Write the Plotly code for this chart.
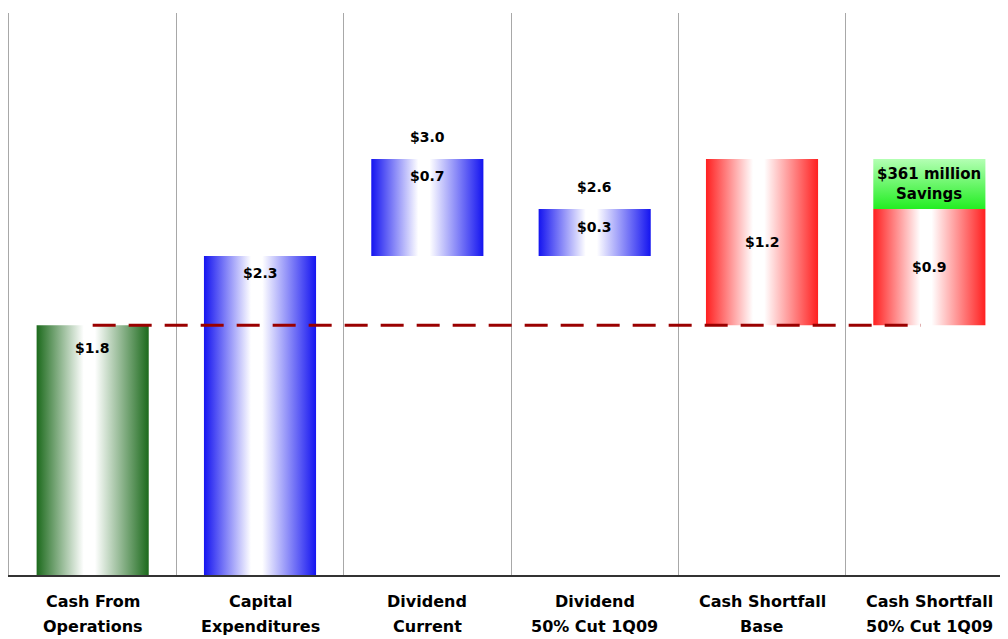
import plotly.graph_objects as go

# ---- data ----
categories = [
    "Cash From<br>Operations",
    "Capital<br>Expenditures",
    "Dividend<br>Current",
    "Dividend<br>50% Cut 1Q09",
    "Cash Shortfall<br>Base",
    "Cash Shortfall<br>50% Cut 1Q09",
]
bar_base = [0.0, 0.0, 2.3, 2.3, 1.8, 1.8]
bar_height = [1.8, 2.3, 0.7, 0.339, 1.2, 0.839]
savings_value = 0.361          # stacked on top of the last bar
inside_labels = ["$1.8", "$2.3", "$0.7", "$0.3", "$1.2", "$0.9"]
total_labels = [None, None, "$3.0", "$2.6", None, None]
savings_label = "$361 million<br>Savings"
reference_level = 1.8          # operating cash flow line

# ---- styles ----
bar_colors = ["#1c6a1c", "#1414f0", "#1414f0", "#1414f0", "#ff2020", "#ff2020"]
label_pos = ["top", "top", "top", "top", "mid", "mid"]
label_shift = [-23, -17, -17, -18, 0, 0]
bar_width = 0.67
font_family = "DejaVu Sans"

fig = go.Figure()

for i, (b, h, c) in enumerate(zip(bar_base, bar_height, bar_colors)):
    x0, x1 = i - bar_width / 2, i + bar_width / 2
    fig.add_trace(go.Scatter(
        x=[x0, x1, x1, x0, x0], y=[b, b, b + h, b + h, b],
        mode="lines", fill="toself", line=dict(width=0),
        fillgradient=dict(type="horizontal",
                          colorscale=[[0, c], [0.42, "#ffffff"], [0.52, "#ffffff"], [1, c]]),
        hoverinfo="skip", showlegend=False,
    ))

# savings segment on last bar
i = len(categories) - 1
sb = bar_base[i] + bar_height[i]
x0, x1 = i - bar_width / 2, i + bar_width / 2
fig.add_trace(go.Scatter(
    x=[x0, x1, x1, x0, x0], y=[sb, sb, sb + savings_value, sb + savings_value, sb],
    mode="lines", fill="toself", line=dict(width=0),
    fillgradient=dict(type="vertical", colorscale=[[0, "#22ee22"], [1, "#b4ffb4"]]),
    hoverinfo="skip", showlegend=False,
))

# dashed reference line
fig.add_trace(go.Scatter(
    x=[0, len(categories) - 1 - 0.05], y=[reference_level, reference_level],
    mode="lines", line=dict(color="#9a0000", width=3, dash="23px,13px"),
    hoverinfo="skip", showlegend=False,
))

lab_font = dict(family=font_family, size=14, color="#000000", weight="bold")
sav_font = dict(family=font_family, size=15, color="#000000", weight="bold")
cat_font = dict(family=font_family, size=16, color="#000000", weight="bold")
annotations = []
for i, (b, h) in enumerate(zip(bar_base, bar_height)):
    if label_pos[i] == "top":
        y = b + h
        ys = label_shift[i]
    else:
        y = b + h / 2
        ys = 0
    annotations.append(dict(x=i, y=y, yshift=ys, text=inside_labels[i], showarrow=False,
                            xref="x", yref="y", font=lab_font))
    if total_labels[i]:
        annotations.append(dict(x=i, y=b + h, yshift=22, text=total_labels[i], showarrow=False,
                                xref="x", yref="y", font=lab_font))
annotations.append(dict(x=len(categories) - 1, y=sb + savings_value / 2, text=savings_label,
                        showarrow=False, xref="x", yref="y", font=sav_font))

# category labels (two lines each)
for i, cat in enumerate(categories):
    lines = cat.split("<br>")
    for k, line in enumerate(lines):
        annotations.append(dict(x=i, y=0, yref="paper", xref="x", yshift=-38 - 25 * k,
                                text=line, showarrow=False, font=cat_font))

fig.update_layout(
    width=1000, height=631,
    margin=dict(l=1, r=0, t=5, b=64),
    paper_bgcolor="white", plot_bgcolor="white",
    annotations=annotations,
    xaxis=dict(range=[-0.5, len(categories) - 0.53], showgrid=False, zeroline=False,
               showticklabels=False, ticks="", showline=True, linecolor="#333333", linewidth=2,
               minor=dict(tick0=0.5, dtick=1, showgrid=True, gridcolor="#a8a8a8", gridwidth=1)),
    yaxis=dict(range=[0, 4.052], showgrid=False, zeroline=False, showticklabels=False,
               ticks="", showline=True, linecolor="#a8a8a8", linewidth=1),
)

fig.write_html("out.html")
